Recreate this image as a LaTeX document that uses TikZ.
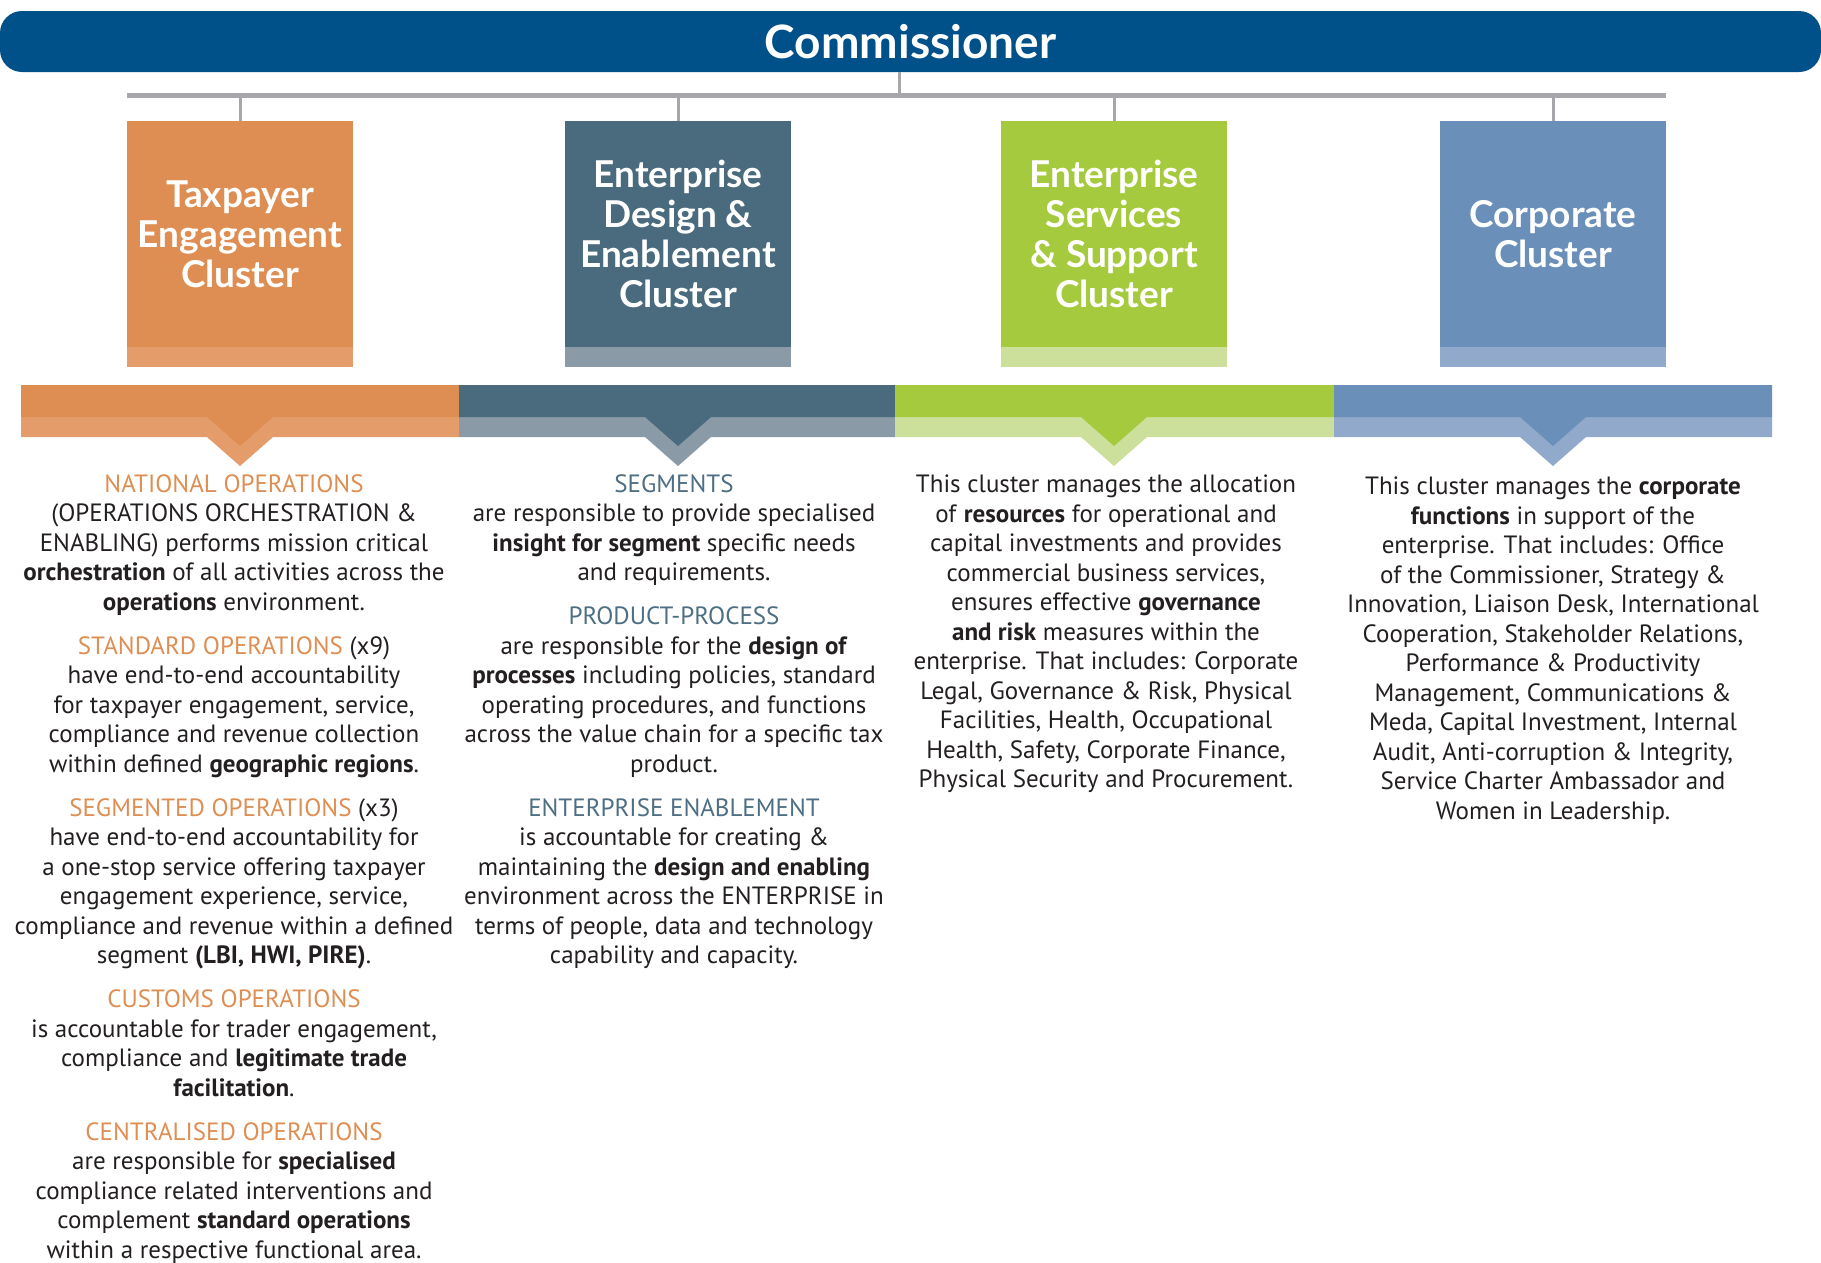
\documentclass[tikz,border=0pt]{standalone}
\usepackage{fontspec}
\setmainfont{PT Sans}
\newfontfamily\boxfont{Lato}
\definecolor{commblue}{RGB}{0,81,137}
\definecolor{tecorange}{RGB}{222,142,82}
\definecolor{tecorangelt}{RGB}{227,156,106}
\definecolor{edeslate}{RGB}{74,106,126}
\definecolor{edeslatelt}{RGB}{138,154,167}
\definecolor{essgreen}{RGB}{165,202,61}
\definecolor{essgreenlt}{RGB}{204,224,155}
\definecolor{corpblue}{RGB}{106,143,185}
\definecolor{corpbluelt}{RGB}{145,169,202}
\definecolor{linkgrey}{RGB}{167,166,171}
\definecolor{bodyink}{RGB}{35,31,32}
\definecolor{headslate}{RGB}{78,110,131}

\begin{document}
\begin{tikzpicture}[x=1pt, y=-1pt, align=center,
  cluster/.style={rectangle, minimum width=226pt, minimum height=226pt, inner sep=0pt,
    text=white, font=\boxfont\bfseries\fontsize{37}{40}\selectfont},
  blurb/.style={anchor=north, inner sep=0pt, text=bodyink, font=\fontsize{25}{29.5}\selectfont},
  link/.style={draw=linkgrey, line width=3pt}]
\useasboundingbox (0,0) rectangle (1821,1262);

\node[rectangle, rounded corners=22pt, fill=commblue, minimum width=1821pt, minimum height=61pt,
  text=white, font=\boxfont\bfseries\fontsize{46}{50}\selectfont] (comm) at (910.5,41.5) {Commissioner};

\node[cluster, fill=tecorange] (tec) at (240,234) {Taxpayer\\Engagement\\Cluster};
\node[cluster, fill=edeslate] (ede) at (678,234) {Enterprise\\Design \&\\Enablement\\Cluster};
\node[cluster, fill=essgreen] (ess) at (1114,234) {Enterprise\\Services\\\& Support\\Cluster};
\node[cluster, fill=corpblue] (corp) at (1553,234) {Corporate\\Cluster};

\fill[tecorangelt] (tec.south west) rectangle ([yshift=-20pt]tec.south east);
\fill[edeslatelt] (ede.south west) rectangle ([yshift=-20pt]ede.south east);
\fill[essgreenlt] (ess.south west) rectangle ([yshift=-20pt]ess.south east);
\fill[corpbluelt] (corp.south west) rectangle ([yshift=-20pt]corp.south east);

% tree lines
\coordinate (hub) at (899,95.5);
\draw[linkgrey, line width=5.5pt] (tec.north west |- hub) -- (corp.north east |- hub);
\draw[link] (comm.south -| hub) -- (hub);
\draw[link] (tec.north) -- (tec.north |- hub);
\draw[link] (ede.north) -- (ede.north |- hub);
\draw[link] (ess.north) -- (ess.north |- hub);
\draw[link] (corp.north) -- (corp.north |- hub);

% band with pointers
\fill[tecorangelt] (21,417) -- (459,417) -- (459,437) -- (273,437) -- (240,466) -- (207,437) -- (21,437) -- cycle;
\fill[tecorange] (21,385) -- (459,385) -- (459,417) -- (273,417) -- (240,446) -- (207,417) -- (21,417) -- cycle;
\fill[edeslatelt] (459,417) -- (895,417) -- (895,437) -- (711,437) -- (678,466) -- (645,437) -- (459,437) -- cycle;
\fill[edeslate] (459,385) -- (895,385) -- (895,417) -- (711,417) -- (678,446) -- (645,417) -- (459,417) -- cycle;
\fill[essgreenlt] (895,417) -- (1334,417) -- (1334,437) -- (1147,437) -- (1114,466) -- (1081,437) -- (895,437) -- cycle;
\fill[essgreen] (895,385) -- (1334,385) -- (1334,417) -- (1147,417) -- (1114,446) -- (1081,417) -- (895,417) -- cycle;
\fill[corpbluelt] (1334,417) -- (1772,417) -- (1772,437) -- (1586,437) -- (1553,466) -- (1520,437) -- (1334,437) -- cycle;
\fill[corpblue] (1334,385) -- (1772,385) -- (1772,417) -- (1586,417) -- (1553,446) -- (1520,417) -- (1334,417) -- cycle;

% column texts
\node[blurb] (tecnotes) at (234,474) {%
{\color{tecorange}NATIONAL OPERATIONS}\\
(OPERATIONS ORCHESTRATION \&\\
ENABLING) performs mission critical\\
\textbf{orchestration} of all activities across the\\
\textbf{operations} environment.\\[14.5pt]
{\color{tecorange}STANDARD OPERATIONS} (x9)\\
have end-to-end accountability\\
for taxpayer engagement, service,\\
compliance and revenue collection\\
within defined \textbf{geographic regions}.\\[14.5pt]
{\color{tecorange}SEGMENTED OPERATIONS} (x3)\\
have end-to-end accountability for\\
a one-stop service offering taxpayer\\
engagement experience, service,\\
compliance and revenue within a defined\\
segment \textbf{(LBI, HWI, PIRE)}.\\[14.5pt]
{\color{tecorange}CUSTOMS OPERATIONS}\\
is accountable for trader engagement,\\
compliance and \textbf{legitimate trade}\\
\textbf{facilitation}.\\[14.5pt]
{\color{tecorange}CENTRALISED OPERATIONS}\\
are responsible for \textbf{specialised}\\
compliance related interventions and\\
complement \textbf{standard operations}\\
within a respective functional area.};

\node[blurb] (edenotes) at (674,474) {%
{\color{headslate}SEGMENTS}\\
are responsible to provide specialised\\
\textbf{insight for segment} specific needs\\
and requirements.\\[14.5pt]
{\color{headslate}PRODUCT-PROCESS}\\
are responsible for the \textbf{design of}\\
\textbf{processes} including policies, standard\\
operating procedures, and functions\\
across the value chain for a specific tax\\
product.\\[14.5pt]
{\color{headslate}ENTERPRISE ENABLEMENT}\\
is accountable for creating \&\\
maintaining the \textbf{design and enabling}\\
environment across the ENTERPRISE in\\
terms of people, data and technology\\
capability and capacity.};

\node[blurb] (essnotes) at (1106,475) {%
This cluster manages the allocation\\
of \textbf{resources} for operational and\\
capital investments and provides\\
commercial business services,\\
ensures effective \textbf{governance}\\
\textbf{and risk} measures within the\\
enterprise. That includes: Corporate\\
Legal, Governance \& Risk, Physical\\
Facilities, Health, Occupational\\
Health, Safety, Corporate Finance,\\
Physical Security and Procurement.};

\node[blurb] (corpnotes) at (1553,477) {%
This cluster manages the \textbf{corporate}\\
\textbf{functions} in support of the\\
enterprise. That includes: Office\\
of the Commissioner, Strategy \&\\
Innovation, Liaison Desk, International\\
Cooperation, Stakeholder Relations,\\
Performance \& Productivity\\
Management, Communications \&\\
Meda, Capital Investment, Internal\\
Audit, Anti-corruption \& Integrity,\\
Service Charter Ambassador and\\
Women in Leadership.};
\end{tikzpicture}
\end{document}
